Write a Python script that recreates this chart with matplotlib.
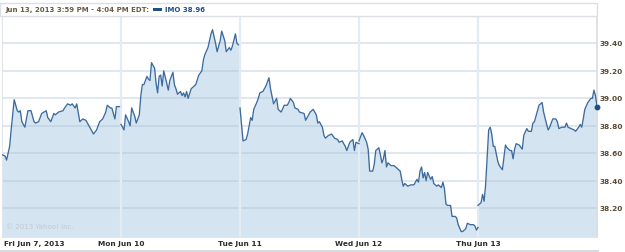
import numpy as np
import matplotlib
matplotlib.use('Agg')
import matplotlib.pyplot as plt

# IMO intraday prices, 5 sessions, minutes after the open (0-390)
days = ['Fri Jun 7, 2013', 'Mon Jun 10', 'Tue Jun 11', 'Wed Jun 12', 'Thu Jun 13']

fri_min = [0, 10, 15, 25, 30, 40, 50, 55, 60, 65, 75, 80, 85, 95, 105, 110, 120, 130, 145, 150,
           160, 170, 175, 185, 200, 205, 215, 225, 230, 240, 245, 255, 265, 275, 285, 295, 300,
           310, 320, 330, 340, 345, 355, 360, 370, 375, 385]
fri_px = [38.59, 38.58, 38.55, 38.65, 38.77, 38.99, 38.91, 38.90, 38.91, 38.83, 38.79, 38.85,
          38.91, 38.91, 38.83, 38.82, 38.83, 38.89, 38.91, 38.86, 38.83, 38.89, 38.88, 38.90,
          38.91, 38.93, 38.96, 38.95, 38.96, 38.93, 38.96, 38.83, 38.85, 38.84, 38.80, 38.76,
          38.74, 38.77, 38.83, 38.85, 38.90, 38.95, 38.93, 38.93, 38.85, 38.94, 38.94]

mon_min = [0, 10, 15, 25, 30, 35, 45, 50, 60, 65, 70, 75, 85, 90, 95, 100, 110, 115, 120, 125,
           130, 135, 140, 150, 155, 160, 170, 175, 180, 185, 195, 200, 205, 210, 215, 220, 230,
           235, 245, 255, 265, 270, 275, 285, 295, 300, 310, 315, 325, 330, 340, 345, 355, 360,
           365, 375, 380, 385]
mon_px = [38.81, 38.77, 38.88, 38.83, 38.80, 38.93, 38.87, 38.82, 38.88, 39.02, 39.10, 39.10,
          39.16, 39.14, 39.13, 39.26, 39.22, 39.11, 39.04, 39.16, 39.17, 39.09, 39.20, 39.11,
          39.06, 39.13, 39.19, 39.10, 39.07, 39.03, 39.05, 39.02, 39.04, 39.01, 39.05, 39.00,
          39.07, 39.08, 39.10, 39.17, 39.20, 39.28, 39.32, 39.37, 39.47, 39.50, 39.40, 39.34,
          39.42, 39.49, 39.42, 39.34, 39.37, 39.35, 39.38, 39.47, 39.40, 39.39]

tue_min = [0, 10, 20, 25, 35, 40, 45, 55, 60, 65, 75, 85, 95, 100, 110, 120, 125, 135, 145,
           155, 160, 165, 175, 180, 190, 195, 210, 215, 225, 230, 240, 250, 255, 260, 270, 275,
           280, 290, 300, 310, 320, 325, 335, 340, 345, 350, 360, 370, 375, 380, 390]
tue_px = [38.93, 38.69, 38.70, 38.74, 38.86, 38.84, 38.92, 38.97, 39.00, 39.04, 39.05, 39.09,
          39.15, 39.07, 38.96, 39.00, 38.92, 38.90, 38.95, 38.95, 38.97, 39.00, 38.97, 38.93,
          38.92, 38.90, 38.89, 38.84, 38.88, 38.90, 38.92, 38.88, 38.82, 38.83, 38.79, 38.73,
          38.71, 38.73, 38.74, 38.71, 38.70, 38.68, 38.69, 38.67, 38.65, 38.62, 38.68, 38.70,
          38.62, 38.68, 38.67]

wed_min = [0, 10, 15, 25, 30, 35, 45, 50, 55, 65, 70, 75, 80, 85, 90, 95, 105, 115, 125, 135,
           140, 145, 150, 160, 170, 180, 185, 190, 195, 200, 205, 210, 215, 220, 225, 235, 240,
           245, 255, 260, 270, 275, 280, 285, 290, 300, 305, 315, 320, 325, 335, 340, 350, 355,
           365, 375, 380, 385, 390]
wed_px = [38.69, 38.75, 38.73, 38.68, 38.63, 38.47, 38.47, 38.52, 38.62, 38.64, 38.59, 38.53,
          38.56, 38.62, 38.50, 38.53, 38.51, 38.51, 38.49, 38.47, 38.41, 38.36, 38.38, 38.36,
          38.37, 38.37, 38.39, 38.41, 38.39, 38.47, 38.50, 38.42, 38.46, 38.40, 38.46, 38.41,
          38.43, 38.38, 38.36, 38.37, 38.35, 38.39, 38.34, 38.23, 38.22, 38.22, 38.14, 38.14,
          38.13, 38.08, 38.03, 38.03, 38.05, 38.09, 38.08, 38.08, 38.07, 38.04, 38.06]

thu_min = [0, 10, 15, 20, 25, 30, 35, 40, 45, 50, 55, 65, 70, 80, 85, 90, 95, 105, 110, 115,
           120, 125, 135, 145, 150, 160, 165, 175, 180, 185, 195, 200, 210, 215, 225, 230, 235,
           245, 255, 260, 265, 275, 285, 290, 295, 305, 315, 320, 330, 335, 340, 345, 350, 360,
           370, 375, 380, 385, 390]
thu_px = [38.22, 38.24, 38.30, 38.25, 38.37, 38.57, 38.77, 38.79, 38.74, 38.65, 38.65, 38.54,
          38.51, 38.48, 38.57, 38.66, 38.64, 38.62, 38.62, 38.56, 38.63, 38.67, 38.66, 38.63,
          38.73, 38.78, 38.76, 38.76, 38.82, 38.83, 38.91, 38.95, 38.97, 38.90, 38.81, 38.77,
          38.79, 38.85, 38.85, 38.83, 38.78, 38.79, 38.79, 38.82, 38.79, 38.78, 38.77, 38.76,
          38.79, 38.81, 38.79, 38.85, 38.92, 38.97, 39.00, 39.00, 39.06, 39.02, 38.94]

y_ticks = [38.20, 38.40, 38.60, 38.80, 39.00, 39.20, 39.40]
session_len = 390
header = 'Jun 13, 2013 3:59 PM - 4:04 PM EDT:'
legend_label = 'IMO 38.96'

line_color = '#3d6b9d'
fill_color = '#a3c4e0'
grid_color = '#dde5ed'
label_color = '#5a4a35'

sessions = [(fri_min, fri_px), (mon_min, mon_px), (tue_min, tue_px),
            (wed_min, wed_px), (thu_min, thu_px)]

fig = plt.figure(figsize=(6.25, 2.53), dpi=100)
ax = fig.add_axes([2 / 625, 15 / 253, 595 / 625, 221 / 253])
ax.set_xlim(0, session_len * len(days))
ax.set_ylim(37.99, 39.60)

# horizontal grid under the fill
for v in y_ticks:
    ax.axhline(v, color=grid_color, lw=1.3, zorder=0)

bottom = ax.get_ylim()[0]
for i, (mins, px) in enumerate(sessions):
    t = np.array(mins) + i * session_len
    ax.fill_between(t, px, bottom, color=fill_color, alpha=0.45, lw=0, zorder=1)
    ax.plot(t, px, color=line_color, lw=0.95, zorder=3)

# day separators on top of the fill
for i in range(1, len(days)):
    ax.axvline(i * session_len, color='#e4ebf2', lw=1.6, zorder=2)

# last price marker
ax.plot(session_len * 4 + thu_min[-1], thu_px[-1], 'o', color='#1f4f86',
        ms=3.2, zorder=4, clip_on=False)

ax.set_xticks([])
ax.set_yticks([])
for s in ['left', 'bottom']:
    ax.spines[s].set_color('#e2e6ea')
for s in ['top', 'right']:
    ax.spines[s].set_color('#d9dde2')
    ax.spines[s].set_linewidth(1.2)

# y labels on the right
for v in y_ticks:
    ax.text(1.005, v, f'{v:.2f}', transform=ax.get_yaxis_transform(),
            ha='left', va='center', fontsize=5.3, fontweight='bold', color=label_color)

# day labels below
for i, d in enumerate(days):
    ha = 'left' if i == 0 else 'center'
    x = 0.003 if i == 0 else i / len(days)
    ax.text(x, -0.015, d, transform=ax.transAxes, ha=ha, va='top',
            fontsize=5.3, fontweight='bold', color='#2e2a25')

ax.text(0.006, 0.035, '\u00a9 2013 Yahoo! Inc.', transform=ax.transAxes,
        ha='left', va='bottom', fontsize=5, color='#c3cad2', zorder=5)

# header strip
fig.patches.append(plt.Rectangle((0, 236 / 253), 597 / 625, 13 / 253,
                                 transform=fig.transFigure, fc='white',
                                 ec='#dcdfe3', lw=1.0))
fig.text(5 / 625, 1 - 10 / 253, header, ha='left', va='center',
         fontsize=5.0, fontweight='bold', color='#6a5a42')
fig.patches.append(plt.Rectangle((153 / 625, 1 - 11.5 / 253), 9 / 625, 3 / 253,
                                 transform=fig.transFigure, fc='#1f4f86', ec='none'))
fig.text(165 / 625, 1 - 10 / 253, legend_label, ha='left', va='center',
         fontsize=5.0, fontweight='bold', color='#1f4f86')

# bottom rule
fig.lines.append(plt.Line2D([0, 597 / 625], [1.5 / 253, 1.5 / 253],
                            transform=fig.transFigure, color='#d4d7db', lw=2))

fig.savefig('out.png', dpi=100)
